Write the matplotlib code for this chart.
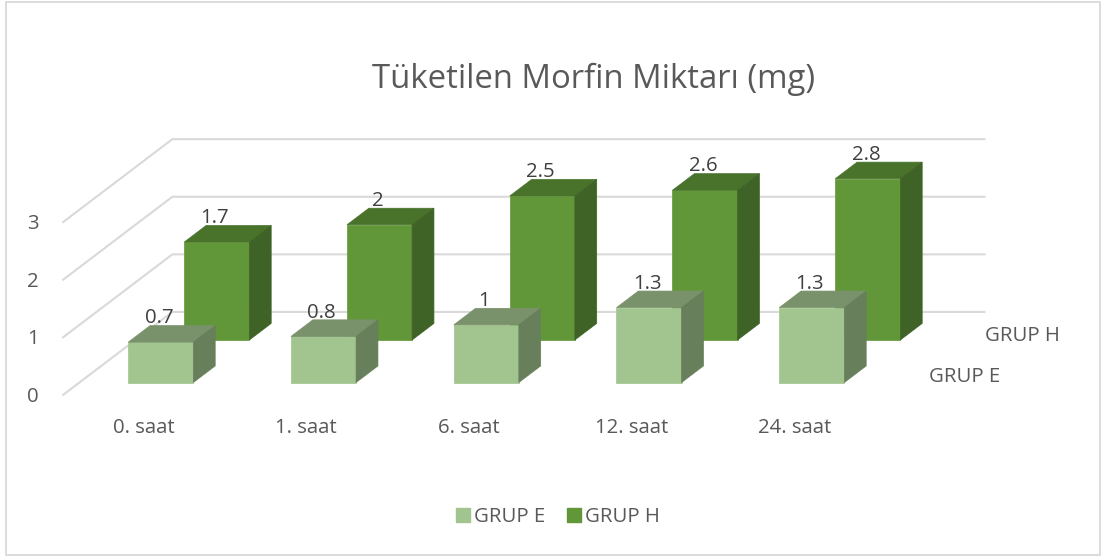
import matplotlib
matplotlib.use("Agg")
import matplotlib.pyplot as plt
from matplotlib.patches import Patch, Rectangle

plt.rcParams['font.family'] = ['Open Sans', 'DejaVu Sans']

## data
saat = ["0. saat", "1. saat", "6. saat", "12. saat", "24. saat"]
grup_e = [0.7, 0.8, 1, 1.3, 1.3]
grup_h = [1.7, 2, 2.5, 2.6, 2.8]
y_ticks = [0, 1, 2, 3]

## colors: front, top, side
renk_e = ("#A2C48E", "#7A926B", "#677F5A")
renk_h = ("#619739", "#49722B", "#3F6326")

W, H = 1103, 556
x_birim = 162.75   # px per category
y_birim = 57.6     # px per value unit
dx = 56.0 / x_birim   # shift per series along depth
dy = 42.5 / y_birim
bar_w = 0.2
bar_d = 0.39
yazi = 14.7

fig = plt.figure(figsize=(W / 100, H / 100), dpi=100)
ax = fig.add_axes([0, 0, 1, 1])
ax.set_xlim((0 - 160.8) / x_birim, (W - 160.8) / x_birim)
ax.set_ylim((382.5 - H) / y_birim, 382.5 / y_birim)
ax.axis("off")

# frame
ax.add_patch(Rectangle((6 / W, 1 / H), 1094 / W, 553 / H, transform=ax.transAxes,
                       fill=False, ec="#D9D9D9", lw=1.3))

# grid, walls
on_d = -0.29
arka_d = 1.66
for v in y_ticks:
    xs = [-0.5 + on_d * dx, -0.5 + arka_d * dx, 4.49 + arka_d * dx]
    ys = [v + on_d * dy, v + arka_d * dy, v + arka_d * dy]
    ax.plot(xs, ys, color="#D9D9D9", lw=1.5, zorder=1)
    ax.text(-0.5 + on_d * dx - 0.185, v + on_d * dy - 0.035, str(v), ha="center", va="center",
            fontsize=yazi, color="#595959")


def kutu(i, d, v, renk, z):
    x0 = i - bar_w
    x1 = i + bar_w
    b = d * dy
    x_k = d * dx
    sx = bar_d * dx
    sy = bar_d * dy
    ax.fill([x0 + x_k, x1 + x_k, x1 + x_k, x0 + x_k], [b, b, b + v, b + v], color=renk[0], lw=0.5, zorder=z)
    ax.fill([x0 + x_k, x1 + x_k, x1 + x_k + sx, x0 + x_k + sx],
            [b + v, b + v, b + v + sy, b + v + sy], color=renk[1], lw=0.5, zorder=z)
    ax.fill([x1 + x_k, x1 + x_k + sx, x1 + x_k + sx, x1 + x_k],
            [b, b + sy, b + v + sy, b + v], color=renk[2], lw=0.5, zorder=z)
    ax.text(i + x_k - 0.012, b + v + sy + 0.125, str(v), ha="center", va="center",
            fontsize=yazi, color="#404040", zorder=20)


# back series first
for i, v in enumerate(grup_h):
    kutu(i, 1, v, renk_h, 3 + i)
for i, v in enumerate(grup_e):
    kutu(i, 0, v, renk_e, 10 + i)

for i, s in enumerate(saat):
    ax.text(i - 0.107, -0.79, s, ha="center", va="center", fontsize=yazi, color="#595959")

ax.text(4 + 0.72 + dx, dy + 0.07, "GRUP H", ha="left", va="center", fontsize=yazi, color="#595959")
ax.text(4 + 0.72, 0.1, "GRUP E", ha="left", va="center", fontsize=yazi, color="#595959")

ax.text(594 / W, 1 - 79 / H, "Tüketilen Morfin Miktarı (mg)", transform=ax.transAxes,
        ha="center", va="center", fontsize=23.7, color="#595959")

el = [Patch(color=renk_e[0], label="GRUP E"), Patch(color=renk_h[0], label="GRUP H")]
ax.legend(handles=el, loc="center", bbox_to_anchor=(558 / W, 1 - 517 / H), ncol=2, frameon=False,
          fontsize=yazi, labelcolor="#595959", handlelength=0.7, handleheight=0.7,
          handletextpad=0.2, columnspacing=1.05)

fig.savefig("out.png", dpi=100)
